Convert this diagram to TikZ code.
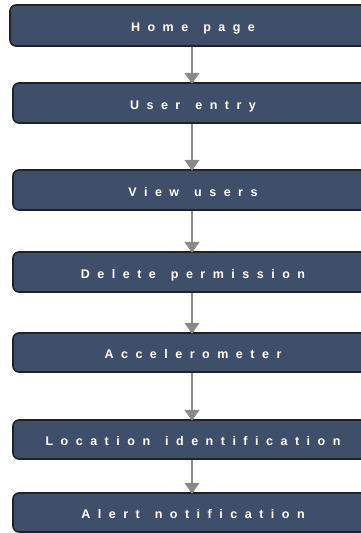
\documentclass[tikz,border=0pt]{standalone}
\usepackage{fontspec}
\setmainfont{Liberation Sans}
\usetikzlibrary{arrows.meta}
\definecolor{boxfill}{HTML}{3F4E69}
\definecolor{boxedge}{HTML}{1E2129}
\definecolor{linkgray}{HTML}{8A8A8A}
\newcommand\wordgap{\kern 15pt\relax}
\tikzset{
  stepbox/.style={draw=boxedge, line width=1.6pt, fill=boxfill, rounded corners=6pt},
  steplabel/.style={text=white, font=\fontsize{12.5}{14}\selectfont\bfseries\addfontfeatures{LetterSpace=60}, inner sep=0pt, anchor=base},
  link/.style={draw=linkgray, line width=1.4pt, -{Triangle[width=15pt,length=11pt]}}
}
\begin{document}
\begin{tikzpicture}[x=1pt, y=-1pt]
  \useasboundingbox (0,0) rectangle (360,533);
  % boxes: left, top, bottom, caption
  \foreach \n/\l/\t/\b/\txt in {
      1/10/5/46/{Home\wordgap page},
      2/13/83/123/{User\wordgap entry},
      3/13/170/210/{View\wordgap users},
      4/13/252/292/{Delete\wordgap permission},
      5/13/333/372/{Accelerometer},
      6/13/420/459/{Location\wordgap identification},
      7/13/493/532/{Alert\wordgap notification}} {
    \draw[stepbox] (\l,\t) rectangle (372,\b);
    \coordinate (b\n top) at (192,\t);
    \coordinate (b\n bot) at (192,\b);
    \node[steplabel] (t\n) at (193,{(\t+\b)/2+6}) {\txt};
  }
  \foreach \a/\c in {1/2,2/3,3/4,4/5,5/6,6/7} {
    \draw[link] ([yshift=-0.8pt]b\a bot) -- ([yshift=-0.8pt]b\c top);
  }
\end{tikzpicture}
\end{document}
